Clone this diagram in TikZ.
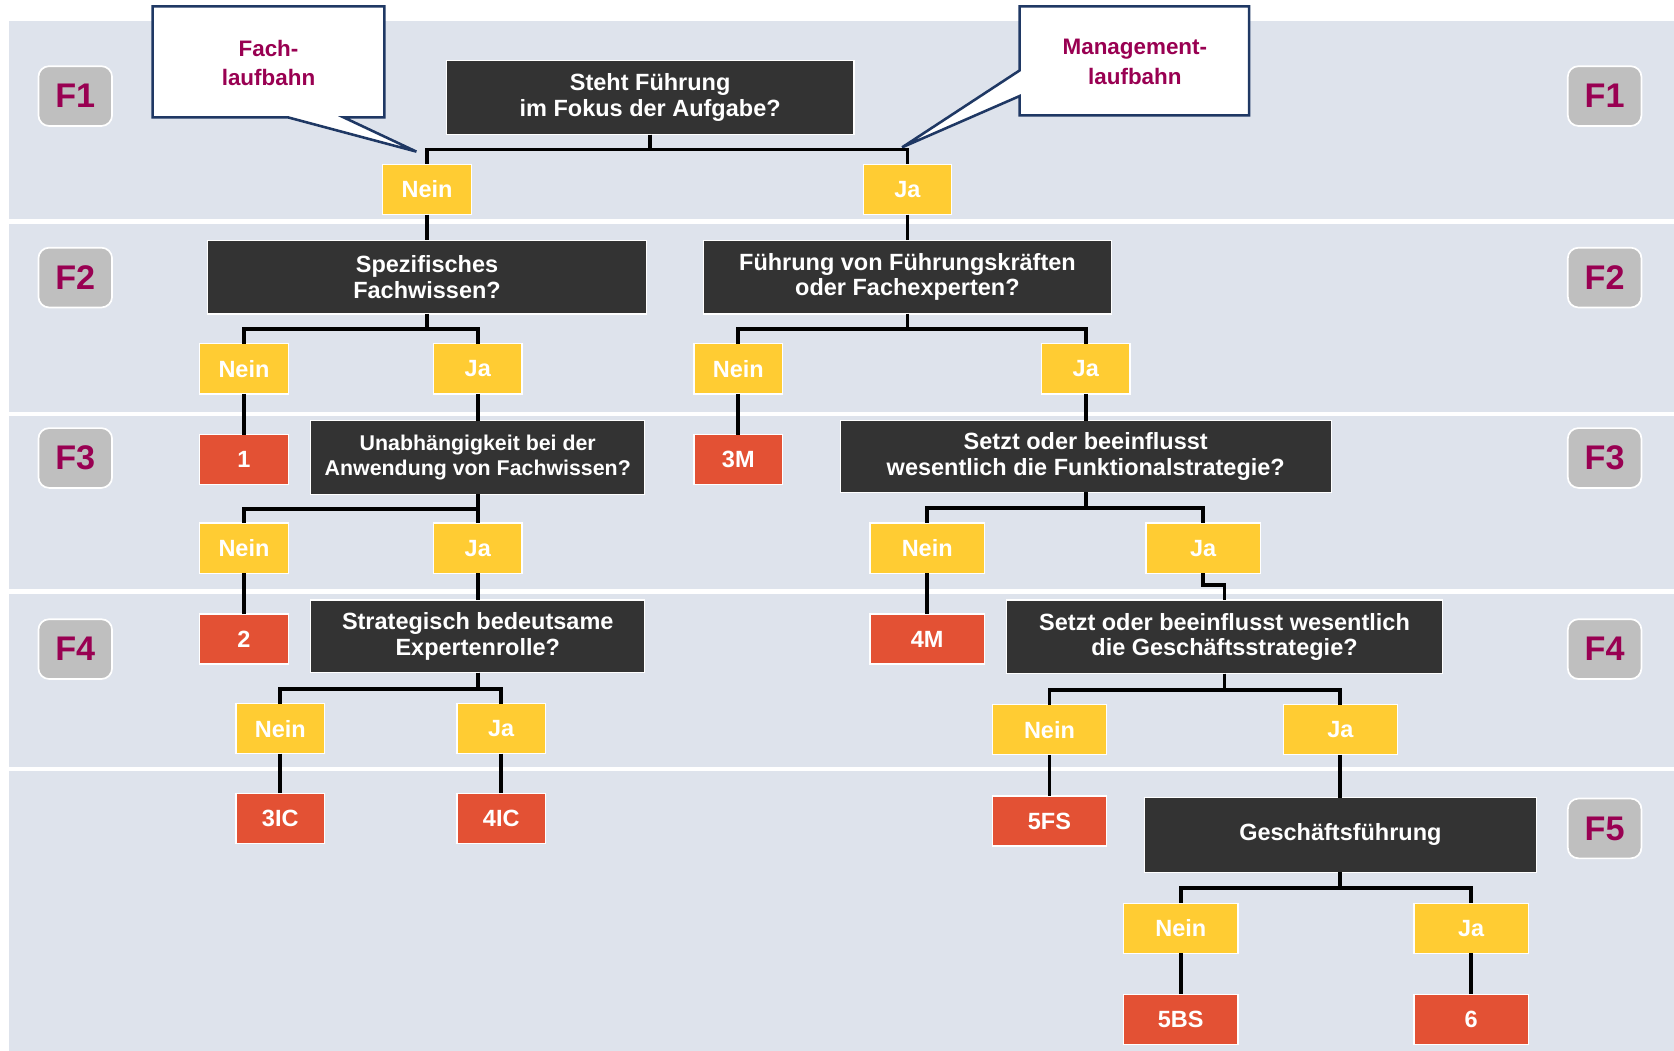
\documentclass[tikz,border=0pt]{standalone}
\usepackage{fontspec}
\setmainfont{Liberation Sans}
\definecolor{band}{RGB}{222,227,236}
\definecolor{darkbox}{RGB}{51,51,51}
\definecolor{yellowbox}{RGB}{255,204,51}
\definecolor{redbox}{RGB}{227,81,52}
\definecolor{levelgray}{RGB}{191,191,191}
\definecolor{levelred}{RGB}{153,0,82}
\definecolor{callblue}{RGB}{31,56,100}
\begin{document}
\begin{tikzpicture}
	[x=0.5pt, y=-0.5pt,
	every node/.style={inner sep=0, outer sep=0, text=white, align=center, font=\bfseries\fontsize{11}{12}\selectfont},
	question/.style={draw=white, line width=0.6pt, fill=darkbox, minimum height=34.5pt},
	answer/.style={draw=white, line width=0.6pt, fill=yellowbox, minimum width=41.5pt, minimum height=23.5pt},
	wide/.style={minimum width=53.5pt},
	result/.style={answer, fill=redbox},
	level/.style={draw=white, line width=0.8pt, fill=levelgray, rounded corners=5pt, text=levelred, font=\bfseries\fontsize{16}{16}\selectfont, minimum width=34.5pt, minimum height=28pt},
	calltext/.style={text=levelred, font=\bfseries\fontsize{10.5}{14}\selectfont},
	callout/.style={fill=white, draw=callblue, line width=1.2pt, line join=miter},
	link/.style={line width=1.8pt}]
	\useasboundingbox (0, 0) rectangle (1568, 984);
	\fill [white] (0, 0) rectangle (1568, 984);
	% bands
	\fill [band] (8, 20) rectangle (1568, 205);
	\fill [band] (8, 210) rectangle (1568, 386);
	\fill [band] (8, 390) rectangle (1568, 552);
	\fill [band] (8, 556) rectangle (1568, 718);
	\fill [band] (8, 722) rectangle (1568, 984);
	% levels
	\node (l1) [level] at (70.5, 90) {F1};
	\node (l2) [level] at (70.5, 260) {F2};
	\node (l3) [level] at (70.5, 429) {F3};
	\node (l4) [level] at (70.5, 608) {F4};
	\node (r1) [level] at (1503, 90) {F1};
	\node (r2) [level] at (1503, 260) {F2};
	\node (r3) [level] at (1503, 429) {F3};
	\node (r4) [level] at (1503, 608) {F4};
	\node (r5) [level] at (1503, 776) {F5};
	% callouts
	\coordinate (fachtip) at (390, 142);
	\coordinate (mgmttip) at (845, 138);
	\filldraw [callout] (143, 6) -- (360, 6) -- (360, 110) -- (322, 110) -- (fachtip) -- (270, 110) -- (143, 110) -- cycle;
	\filldraw [callout] (955, 6) -- (1170, 6) -- (1170, 108) -- (955, 108) -- (955, 90) -- (mgmttip) -- (955, 66) -- cycle;
	\node (fach) [calltext] at (251.5, 59) {Fach-\\laufbahn};
	\node (mgmt) [calltext] at (1063, 58) {Management-\\laufbahn};
	% questions
	\node (fokus) [question, minimum width=191pt] at (609, 91.5) {Steht Führung\\im Fokus der Aufgabe?};
	\node (fachw) [question, minimum width=205.5pt] at (400, 259.5) {Spezifisches\\Fachwissen?};
	\node (fuehr) [question, minimum width=191pt] at (850, 259.5) {Führung von Führungskräften\\oder Fachexperten?};
	\node (unabh) [question, minimum width=156.5pt, font=\bfseries\fontsize{10}{11.5}\selectfont] at (447.5, 428.5) {Unabhängigkeit bei der\\Anwendung von Fachwissen?};
	\node (funkt) [question, minimum width=230pt, minimum height=33.5pt] at (1017, 427.5) {Setzt oder beeinflusst\\wesentlich die Funktionalstrategie?};
	\node (exper) [question, minimum width=156.5pt, minimum height=34pt] at (447.5, 596) {Strategisch bedeutsame\\Expertenrolle?};
	\node (gesch) [question, minimum width=204pt] at (1147, 596.5) {Setzt oder beeinflusst wesentlich\\die Geschäftsstrategie?};
	\node (gf) [question, minimum width=183.5pt, minimum height=35pt] at (1255.5, 782) {Geschäftsführung};
	% answers
	\node (fokusnein) [answer] at (400, 177.5) {Nein};
	\node (fokusja) [answer] at (850, 177.5) {Ja};
	\node (fachwnein) [answer] at (228.5, 345.5) {Nein};
	\node (fachwja) [answer] at (447.5, 345.5) {Ja};
	\node (fuehrnein) [answer] at (691.5, 345.5) {Nein};
	\node (fuehrja) [answer] at (1017, 345.5) {Ja};
	\node (unabhnein) [answer] at (228.5, 513.5) {Nein};
	\node (unabhja) [answer] at (447.5, 513.5) {Ja};
	\node (funktnein) [answer, wide] at (868.5, 513.5) {Nein};
	\node (funktja) [answer, wide] at (1127, 513.5) {Ja};
	\node (expernein) [answer] at (262.5, 682.5) {Nein};
	\node (experja) [answer] at (469.5, 682.5) {Ja};
	\node (geschnein) [answer, wide] at (983, 683.5) {Nein};
	\node (geschja) [answer, wide] at (1255.5, 683.5) {Ja};
	\node (gfnein) [answer, wide] at (1106, 869.5) {Nein};
	\node (gfja) [answer, wide] at (1378, 869.5) {Ja};
	% results
	\node (res1) [result] at (228.5, 430.5) {1};
	\node (res3m) [result] at (691.5, 430.5) {3M};
	\node (res2) [result] at (228.5, 598.5) {2};
	\node (res4m) [result, wide] at (868.5, 598.5) {4M};
	\node (res3ic) [result] at (262.5, 766.5) {3IC};
	\node (res4ic) [result] at (469.5, 766.5) {4IC};
	\node (res5fs) [result, wide] at (983, 769) {5FS};
	\node (res5bs) [result, wide] at (1106, 955) {5BS};
	\node (res6) [result, wide] at (1378, 955) {6};
	% links
	\draw [link] (fokus.south) -- ++(0, 14) -| (fokusnein.north);
	\draw [link] (fokus.south) -- ++(0, 14) -| (fokusja.north);
	\draw [link] (fokusnein) -- (fachw);
	\draw [link] (fokusja) -- (fuehr);
	\draw [link] (fachw.south) -- ++(0, 14) -| (fachwnein.north);
	\draw [link] (fachw.south) -- ++(0, 14) -| (fachwja.north);
	\draw [link] (fuehr.south) -- ++(0, 14) -| (fuehrnein.north);
	\draw [link] (fuehr.south) -- ++(0, 14) -| (fuehrja.north);
	\draw [link] (fachwnein) -- (res1);
	\draw [link] (fachwja) -- (unabh);
	\draw [link] (fuehrnein) -- (res3m);
	\draw [link] (fuehrja) -- (funkt);
	\draw [link] (unabh.south) -- ++(0, 14) -| (unabhnein.north);
	\draw [link] (unabh.south) -- ++(0, 14) -| (unabhja.north);
	\draw [link] (funkt.south) -- ++(0, 15) -| (funktnein.north);
	\draw [link] (funkt.south) -- ++(0, 15) -| (funktja.north);
	\draw [link] (unabhnein) -- (res2);
	\draw [link] (unabhja) -- (exper);
	\draw [link] (funktnein) -- (res4m);
	\draw [link] (funktja.south) -- ++(0, 11) -| (gesch.north);
	\draw [link] (exper.south) -- ++(0, 15) -| (expernein.north);
	\draw [link] (exper.south) -- ++(0, 15) -| (experja.north);
	\draw [link] (gesch.south) -- ++(0, 15) -| (geschnein.north);
	\draw [link] (gesch.south) -- ++(0, 15) -| (geschja.north);
	\draw [link] (expernein) -- (res3ic);
	\draw [link] (experja) -- (res4ic);
	\draw [link] (geschnein) -- (res5fs);
	\draw [link] (geschja) -- (gf);
	\draw [link] (gf.south) -- ++(0, 15) -| (gfnein.north);
	\draw [link] (gf.south) -- ++(0, 15) -| (gfja.north);
	\draw [link] (gfnein) -- (res5bs);
	\draw [link] (gfja) -- (res6);
\end{tikzpicture}
\end{document}
